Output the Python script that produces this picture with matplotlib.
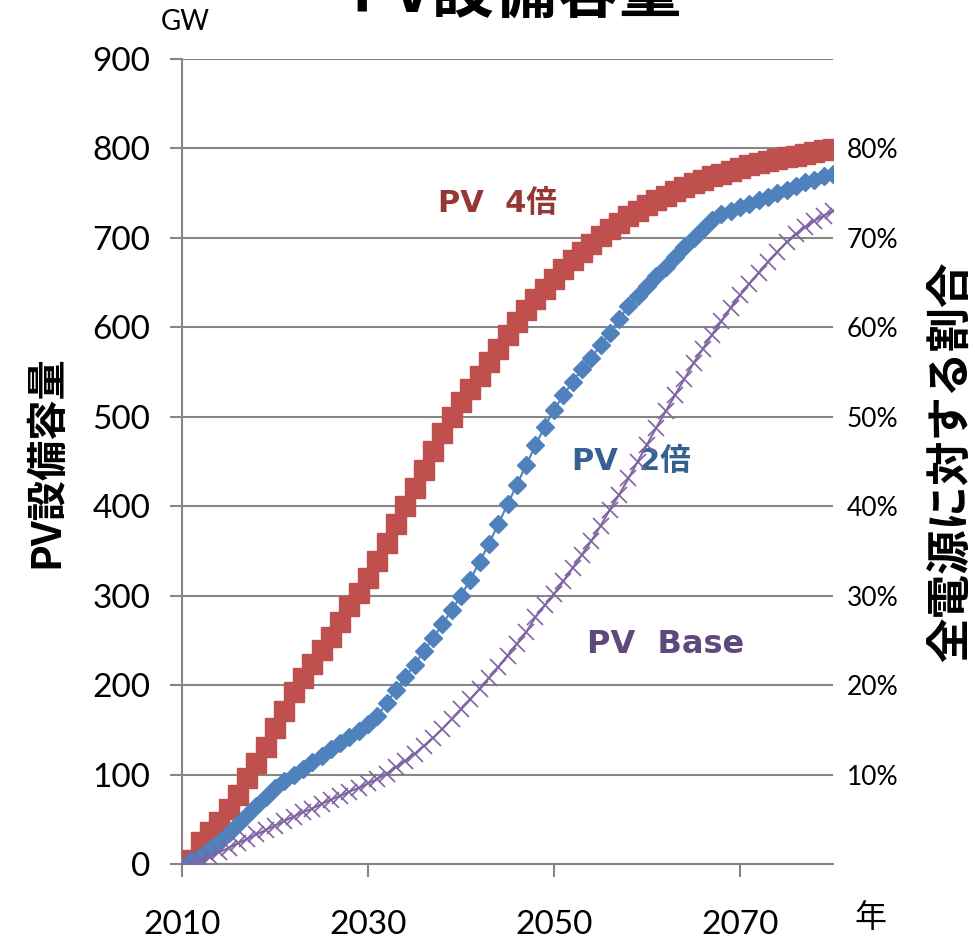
import matplotlib
matplotlib.use("Agg")
import matplotlib.pyplot as plt
from matplotlib.ticker import FixedLocator, FuncFormatter

plt.rcParams['font.family'] = ['Lato', 'Noto Sans CJK JP', 'DejaVu Sans']
jp = ['Noto Sans CJK JP', 'DejaVu Sans']
wide = ['DejaVu Sans', 'Noto Sans CJK JP']

years = list(range(2011, 2081))

# PV capacity (GW), 4x scenario
pv_4x = [5, 25, 36, 47, 61, 77, 96, 113, 131, 152,
         171, 192, 208, 224, 239, 254, 271, 288, 303, 320,
         339, 359, 380, 400, 420, 441, 462, 482, 500, 516,
         531, 546, 561, 576, 592, 606, 619, 632, 643, 654,
         665, 675, 684, 693, 702, 710, 717, 724, 730, 737,
         742, 747, 752, 757, 761, 765, 769, 772, 775, 778,
         781, 784, 786, 788, 790, 792, 794, 796, 798, 799]

# PV capacity (GW), 2x scenario
pv_2x = [3, 9, 17, 25, 35, 45, 55, 65, 75, 85,
         93, 100, 106, 114, 121, 128, 135, 142, 149, 156,
         165, 180, 195, 209, 223, 238, 253, 268, 284, 300,
         318, 338, 358, 380, 402, 424, 446, 468, 489, 508,
         524, 539, 553, 566, 580, 594, 609, 624, 635, 646,
         657, 668, 679, 690, 700, 710, 720, 727, 730, 734,
         738, 742, 746, 750, 754, 758, 762, 765, 769, 772]

# PV capacity (GW), base scenario
pv_base = [1, 4, 8, 13, 18, 23, 28, 33, 38, 43,
           48, 53, 58, 62, 67, 72, 76, 81, 85, 90,
           95, 101, 108, 115, 123, 132, 141, 151, 162, 173,
           184, 196, 208, 220, 233, 246, 259, 276, 289, 302,
           316, 331, 346, 361, 378, 396, 413, 431, 450, 469,
           488, 506, 524, 542, 560, 576, 592, 607, 622, 636,
           649, 661, 673, 684, 695, 704, 712, 719, 725, 730]

gw_ticks = [0, 100, 200, 300, 400, 500, 600, 700, 800, 900]
share_ticks = [10, 20, 30, 40, 50, 60, 70, 80]
year_ticks = [2010, 2030, 2050, 2070]

red = '#C0504D'
blue = '#4F81BD'
purple = '#8064A2'
grid = '#868686'

fig = plt.figure(figsize=(9.75, 9.43), dpi=100)
ax = fig.add_axes([0.1867, 0.0838, 0.6677, 0.8536])

ax.plot(years, pv_4x, color=red, marker='s', ms=13.8, mec=red, lw=1.5, zorder=3)
ax.plot(years, pv_2x, color=blue, marker='D', ms=9, mec=blue, lw=1.5, zorder=4)
ax.plot(years, pv_base, color=purple, marker='x', ms=11.5, mew=1.2, lw=1.5, zorder=5)

ax.set_xlim(2010, 2080)
ax.set_ylim(0, 900)
ax.set_xticks(year_ticks)
ax.set_yticks(gw_ticks)
ax.yaxis.grid(True, color=grid, lw=1.5)
ax.set_axisbelow(True)
for side in ['top', 'right']:
    ax.spines[side].set_visible(False)
for side in ['left', 'bottom']:
    ax.spines[side].set_color(grid)
    ax.spines[side].set_linewidth(1.5)
ax.tick_params(axis='both', colors=grid, width=1.5, length=9, labelsize=24,
               labelcolor='black')
ax.tick_params(axis='x', pad=24)
ax.tick_params(axis='y', pad=14)

# share of total generation on the right, same scale (100 GW = 10%)
ax2 = ax.twinx()
ax2.set_ylim(0, 90)
ax2.yaxis.set_major_locator(FixedLocator(share_ticks))
ax2.yaxis.set_major_formatter(FuncFormatter(lambda v, p: f"{v:.0f}%"))
for s in ax2.spines.values():
    s.set_visible(False)
ax2.tick_params(axis='y', length=0, pad=10, labelsize=19)

ax.set_ylabel('PV設備容量', family=jp, fontsize=29, fontweight='bold', labelpad=18)
ax2.set_ylabel('全電源に対する割合', family=jp, fontsize=32, fontweight='bold', labelpad=22)

ax.text(2043.9, 738, 'PV  4倍', family=wide, fontsize=22, fontweight='bold',
        color='#953735', ha='center', va='center')
ax.text(2058.3, 450, 'PV  2倍', family=wide, fontsize=22, fontweight='bold',
        color='#376092', ha='center', va='center')
ax.text(2062, 245, 'PV  Base', family=wide, fontsize=23, fontweight='bold',
        color='#5F497A', ha='center', va='center')

fig.text(0.19, 0.977, 'GW', fontsize=20, ha='center', va='center')
fig.text(0.893, 0.027, '年', family=jp, fontsize=23, ha='center', va='center')
fig.text(0.53, 0.988, 'PV設備容量', family=jp, fontsize=45, fontweight='bold',
         ha='center', va='baseline')

fig.savefig('out.png', dpi=100)
